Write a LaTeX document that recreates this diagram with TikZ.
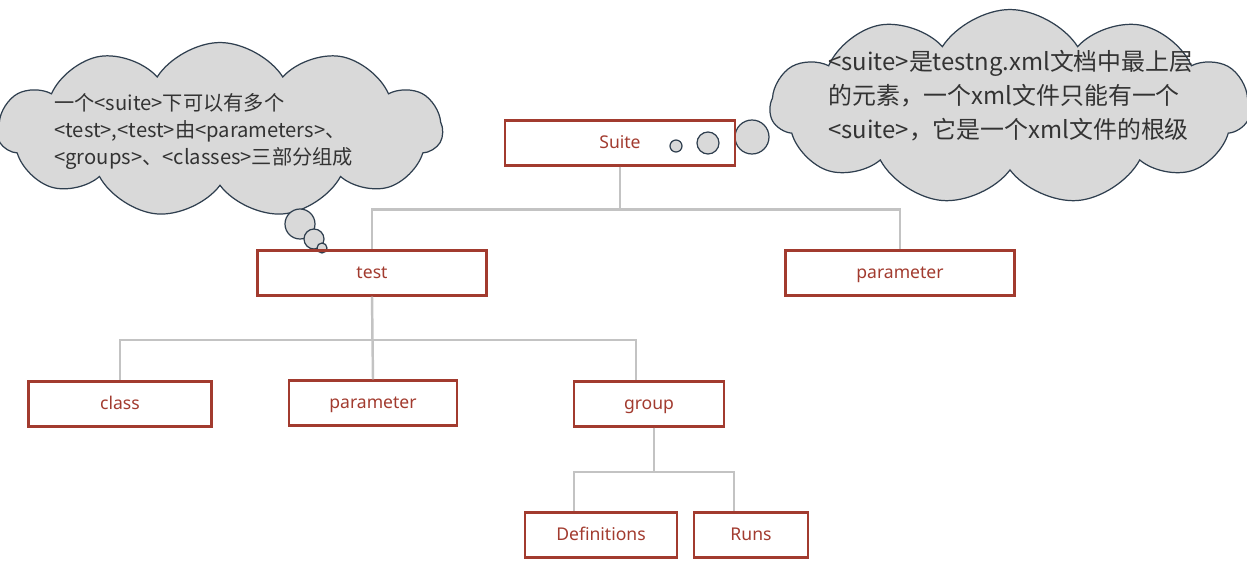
\documentclass[tikz,border=0pt]{standalone}
\usepackage{fontspec}
\setmainfont{Noto Sans}
\newfontfamily\cjk{Noto Sans CJK SC}
\usetikzlibrary{shapes.symbols,calc,positioning}
\definecolor{rojo}{HTML}{A23B2F}
\definecolor{gris}{HTML}{C3C3C3}
\definecolor{nube}{HTML}{D9D9D9}
\definecolor{borde}{HTML}{2F3F4F}
\definecolor{tinta}{HTML}{333333}
\tikzset{
  caja/.style={draw=rojo,line width=1.4pt,text=rojo,font=\fontsize{10}{12}\selectfont,
    minimum height=0.9cm,inner sep=0pt,text height=1.5ex,text depth=0.3ex},
  enlace/.style={draw=gris,line width=1.4pt},
  globo/.style={cloud,cloud puffs=11,cloud puff arc=115,draw=borde,fill=nube,line width=0.7pt,inner sep=0pt},
  burbuja/.style={draw=borde,fill=nube,line width=0.7pt},
  nota/.style={text=tinta,align=left,anchor=north west,inner sep=0pt}
}

\begin{document}
\begin{tikzpicture}[x=0.02cm,y=-0.02cm]
  \useasboundingbox (0,0) rectangle (1247,568);
  % nubes
  \node[globo,minimum width=8.9cm,minimum height=3.5cm] (nubeA) at (220,130) {};
  \node[globo,minimum width=9.6cm,minimum height=3.9cm] (nubeB) at (1010,107) {};
  \foreach \x/\y/\r in {300/224/15,314/239/10,322/248/5,676/146/6,708/143/11,752/137/17}
    \draw[burbuja] (\x,\y) circle (\r);
  \node[nota,font=\cjk\fontsize{11.5}{15.3}\selectfont] (textoA) at (54,93)
    {一个<suite>下可以有多个\\<test>,<test>由<parameters>、\\<groups>、<classes>三部分组成};
  \node[nota,font=\cjk\fontsize{13.6}{19.3}\selectfont] (textoB) at (828,50)
    {<suite>是testng.xml文档中最上层\\的元素，一个xml文件只能有一个\\<suite>，它是一个xml文件的根级};
  % cajas
  \node[caja,minimum width=4.6cm]  (suite)  at (620,143) {Suite};
  \node[caja,minimum width=4.58cm] (test)   at (372,273) {test};
  \node[caja,minimum width=4.58cm] (paramA) at (900,273) {parameter};
  \node[caja,minimum width=3.66cm] (clase)  at (120,404) {class};
  \node[caja,minimum width=3.36cm] (paramB) at (373,403) {parameter};
  \node[caja,minimum width=3.0cm]  (grupo)  at (649,404) {group};
  \node[caja,minimum width=3.04cm] (defs)   at (601,535) {Definitions};
  \node[caja,minimum width=2.28cm] (runs)   at (751,535) {Runs};
  % enlaces
  \coordinate (gIn)   at ([xshift=-0.26cm]grupo.north);
  \coordinate (gOut)  at ([xshift=0.1cm]grupo.south);
  \coordinate (dIn)   at ([xshift=-0.54cm]defs.north);
  \coordinate (rIn)   at ([xshift=-0.34cm]runs.north);
  \draw[enlace] (suite.south) -- ++(0,43) -| (test.north);
  \draw[enlace] (suite.south) -- ++(0,43) -| (paramA.north);
  \draw[enlace] (test.south) -- ++(0,43) -| (clase.north);
  \draw[enlace] (test.south) -- (paramB.north);
  \draw[enlace] (test.south) -- ++(0,43) -| (gIn);
  \draw[enlace] (gOut) -- ++(0,44) -| (dIn);
  \draw[enlace] (gOut) -- ++(0,44) -| (rIn);
\end{tikzpicture}
\end{document}
